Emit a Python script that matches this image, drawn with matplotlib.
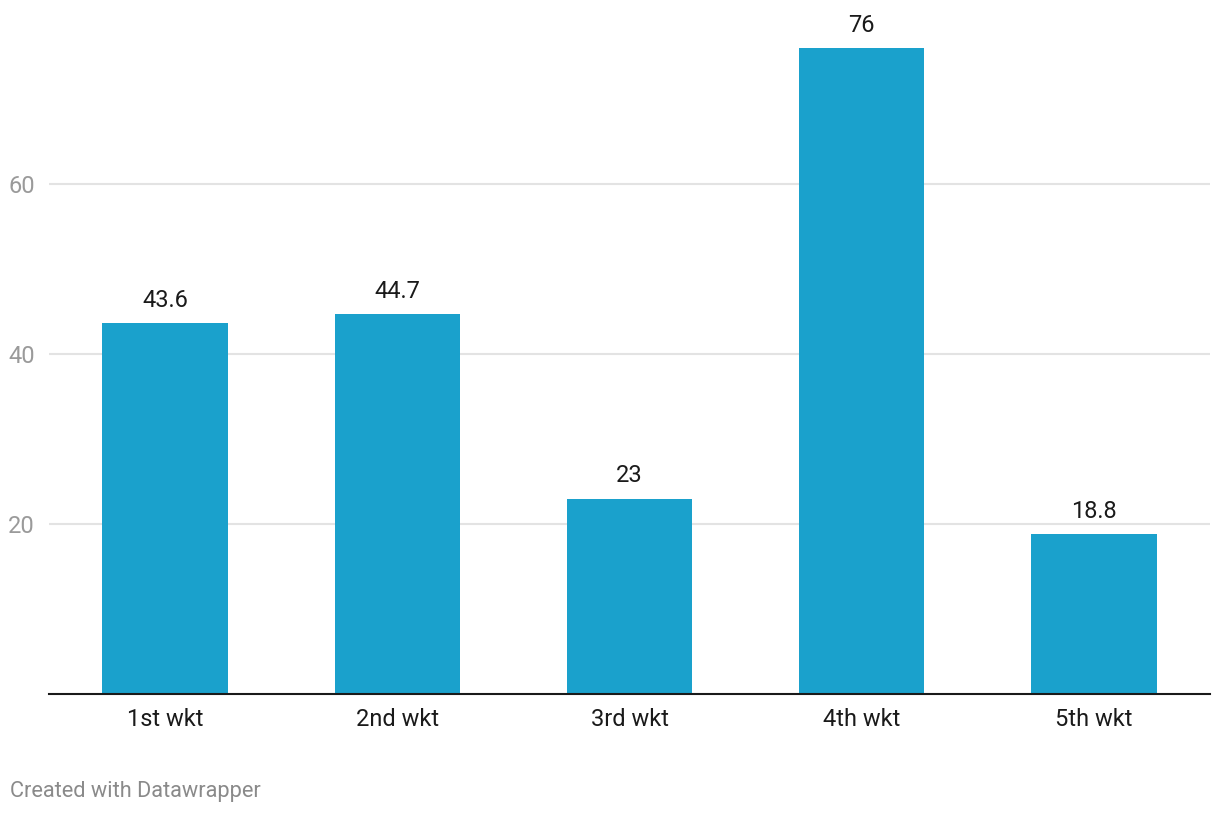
import matplotlib
matplotlib.use("Agg")
import matplotlib.pyplot as plt

categories = ["1st wkt", "2nd wkt", "3rd wkt", "4th wkt", "5th wkt"]
values = [43.6, 44.7, 23, 76, 18.8]
value_labels = ["43.6", "44.7", "23", "76", "18.8"]
yticks = [20, 40, 60]

plt.rcParams['font.family'] = ['Roboto', 'DejaVu Sans']

W, H = 1220, 814
fig = plt.figure(figsize=(W / 100, H / 100), dpi=100)
left, right, top, bottom = 49, 1210, 31, 694
ax = fig.add_axes([left / W, 1 - bottom / H, (right - left) / W, (bottom - top) / H])

x = list(range(len(categories)))
ax.bar(x, values, width=0.54, color="#1aa1cc", zorder=3)
ax.set_xlim(-0.5, len(categories) - 0.5)
ax.set_ylim(0, (bottom - top) / 8.5)

for xi, v, lab in zip(x, values, value_labels):
    ax.annotate(lab, (xi, v), xytext=(0, 8), textcoords="offset points",
                ha="center", va="bottom", fontsize=17, color="#1a1a1a")

for t in yticks:
    ax.axhline(t, color="#e3e3e3", lw=1.5, zorder=1)
ax.set_yticks(yticks)
ax.set_yticklabels([str(t) for t in yticks])
ax.tick_params(axis="y", length=0, pad=10, labelsize=17, labelcolor="#9a9a9a")
ax.set_xticks(x)
ax.set_xticklabels(categories)
ax.tick_params(axis="x", length=0, pad=10, labelsize=17, labelcolor="#1a1a1a")

for s in ["top", "right", "left"]:
    ax.spines[s].set_visible(False)
ax.spines["bottom"].set_color("#1a1a1a")
ax.spines["bottom"].set_linewidth(1.5)
ax.spines["bottom"].set_zorder(4)

fig.text(10 / W, 1 - 791 / H, "Created with Datawrapper", fontsize=15.7,
         color="#8a8a8a", ha="left", va="center")

fig.savefig("out.png", dpi=100)
